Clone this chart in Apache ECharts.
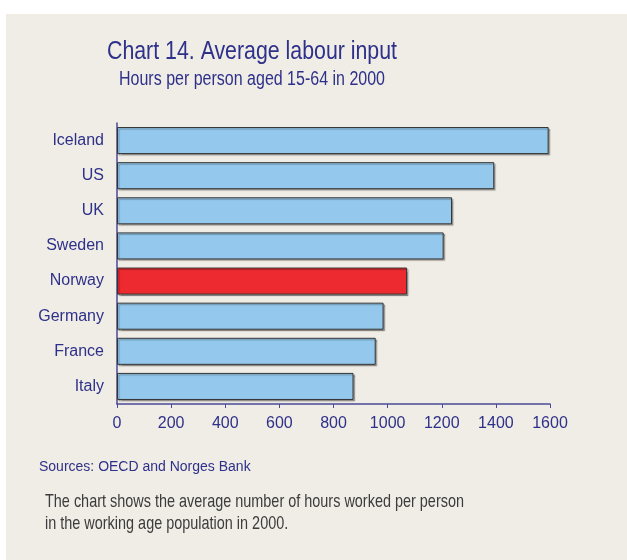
<!DOCTYPE html>
<html>
<head>
<meta charset="utf-8">
<script src="https://cdn.jsdelivr.net/npm/echarts@6/dist/echarts.min.js"></script>
<style>
  html, body { margin: 0; padding: 0; background: #fff; }
  #main { width: 627px; height: 560px; }
</style>
</head>
<body>
<div id="main"></div>
<script>
// countries, top to bottom as in the chart
const countries = ['Iceland', 'US', 'UK', 'Sweden', 'Norway', 'Germany', 'France', 'Italy']
// hours per person aged 15-64, 2000
const hours = [1595, 1394, 1238, 1207, 1072, 985, 956, 874]
const highlight = 'Norway'
const xTicks = [0, 200, 400, 600, 800, 1000, 1200, 1400, 1600]

const navy = '#2e3189'
const sans = '"Liberation Sans", Arial, sans-serif'

const chart = echarts.init(document.getElementById('main'))

// category axis is drawn bottom-up, so reverse for top-down order
const cats = countries.slice().reverse()
const vals = hours.slice().reverse().map((v, i) => ({
  value: v,
  itemStyle: { color: cats[i] === highlight ? '#ec2a30' : '#94c9ed' }
}))

const option = {
  backgroundColor: '#ffffff',
  animation: false,
  graphic: [
    {
      type: 'rect',
      z: -10,
      shape: { x: 6, y: 14, width: 621, height: 546 },
      style: { fill: '#f0ece6' }
    },
    // titles use a narrow face in the original, so squeeze them a bit
    {
      type: 'text', x: 252, y: 65, scaleX: 0.82,
      style: {
        text: 'Chart 14. Average labour input',
        font: '26px ' + sans, fill: navy,
        textAlign: 'center', textVerticalAlign: 'bottom'
      }
    },
    {
      type: 'text', x: 252, y: 89, scaleX: 0.8,
      style: {
        text: 'Hours per person aged 15-64 in 2000',
        font: '20px ' + sans, fill: navy,
        textAlign: 'center', textVerticalAlign: 'bottom'
      }
    },
    {
      type: 'text', x: 39, y: 467,
      style: {
        text: 'Sources: OECD and Norges Bank',
        font: '14px ' + sans, fill: navy,
        textVerticalAlign: 'middle'
      }
    },
    {
      type: 'text', x: 45, y: 491, scaleX: 0.76,
      style: {
        text: 'The chart shows the average number of hours worked per person\nin the working age population in 2000.',
        font: '19px ' + sans, fill: '#3c3c3c',
        lineHeight: 22
      }
    }
  ],
  grid: { left: 117, right: 77, top: 123, bottom: 156 },
  xAxis: {
    type: 'value',
    min: 0,
    max: 1600,
    interval: 200,
    axisLine: { show: true, lineStyle: { color: '#4a4a96', width: 1.5 } },
    axisTick: { show: true, length: 4, lineStyle: { color: '#4a4a96' } },
    splitLine: { show: false },
    axisLabel: {
      margin: 12,
      color: navy,
      fontSize: 16,
      fontFamily: sans,
      formatter: (v) => (xTicks.includes(v) ? String(v) : '')
    }
  },
  yAxis: {
    type: 'category',
    data: cats,
    axisLine: { show: true, lineStyle: { color: '#4a4a96', width: 1.5 } },
    axisTick: { show: false },
    axisLabel: {
      margin: 13,
      color: navy,
      fontSize: 16,
      fontFamily: sans
    }
  },
  series: [
    {
      type: 'bar',
      data: vals,
      barCategoryGap: '23%',
      itemStyle: {
        borderColor: '#333333',
        borderWidth: 1,
        shadowColor: 'rgba(0,0,0,0.3)',
        shadowOffsetX: 1.5,
        shadowOffsetY: 1.5,
        shadowBlur: 1
      }
    }
  ]
}

chart.setOption(option)
</script>
</body>
</html>
